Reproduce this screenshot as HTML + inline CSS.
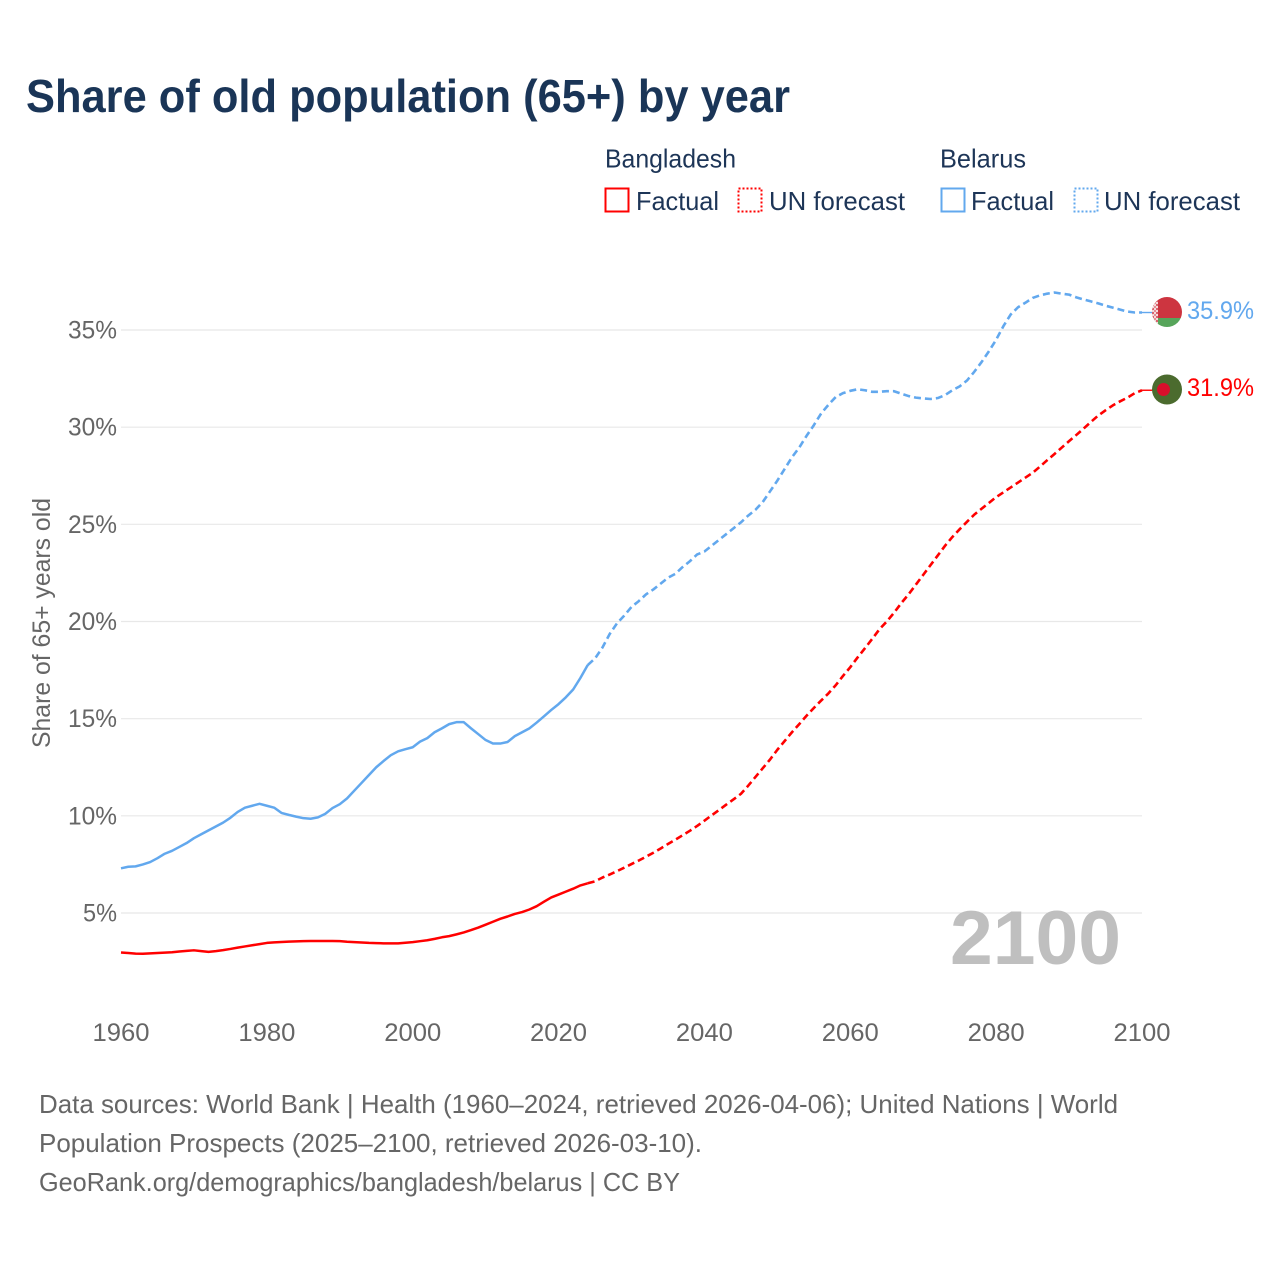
<!DOCTYPE html>
<html lang="en">
<head>
<meta charset="utf-8">
<title>Share of old population (65+) by year</title>
<style>
html,body{margin:0;padding:0;background:#fff;}
svg{display:block;font-family:"Liberation Sans",sans-serif;}
</style>
</head>
<body>
<svg id="chart" xmlns="http://www.w3.org/2000/svg" width="1280" height="1280" viewBox="0 0 1280 1280">
  <rect x="0" y="0" width="1280" height="1280" fill="#ffffff"/>
  <text x="26" y="112" font-size="46" font-weight="700" fill="#1a3557" textLength="764" lengthAdjust="spacingAndGlyphs">Share of old population (65+) by year</text>

  <g font-size="26" fill="#1d3557">
    <text x="605" y="167.5" textLength="131" lengthAdjust="spacingAndGlyphs">Bangladesh</text>
    <rect x="605.5" y="188.5" width="23" height="23" fill="none" stroke="#ff0000" stroke-width="2"/>
    <text x="636" y="210" textLength="83" lengthAdjust="spacingAndGlyphs">Factual</text>
    <rect x="738.5" y="188.5" width="23" height="23" fill="none" stroke="#ff0000" stroke-width="2" stroke-dasharray="2 2"/>
    <text x="769" y="210" textLength="136" lengthAdjust="spacingAndGlyphs">UN forecast</text>
    <text x="940" y="167.5" textLength="86" lengthAdjust="spacingAndGlyphs">Belarus</text>
    <rect x="941.5" y="188.5" width="23" height="23" fill="none" stroke="#62a8ee" stroke-width="2"/>
    <text x="971" y="210" textLength="83" lengthAdjust="spacingAndGlyphs">Factual</text>
    <rect x="1074.5" y="188.5" width="23" height="23" fill="none" stroke="#62a8ee" stroke-width="2" stroke-dasharray="2 2"/>
    <text x="1104" y="210" textLength="136" lengthAdjust="spacingAndGlyphs">UN forecast</text>
  </g>

  <g id="grid"></g>
  <g id="yticks" font-size="25" fill="#666666"></g>
  <g id="xticks" font-size="25" fill="#666666"></g>

  <text transform="translate(50,623) rotate(-90)" text-anchor="middle" font-size="25" fill="#666666" textLength="250" lengthAdjust="spacingAndGlyphs">Share of 65+ years old</text>

  <text x="1121" y="964" text-anchor="end" font-size="76" font-weight="700" fill="#bfbfbf" textLength="171" lengthAdjust="spacingAndGlyphs">2100</text>

  <g id="series"></g>

  <defs>
    <clipPath id="belarus-clip"><circle cx="1167" cy="312" r="15"/></clipPath>
    <pattern id="belarus-ornament" width="4" height="4" patternUnits="userSpaceOnUse">
      <rect width="4" height="4" fill="#f3dcdc"/>
      <rect x="0" y="0" width="2" height="2" fill="#d9646e"/>
      <rect x="2" y="2" width="2" height="2" fill="#e58d94"/>
    </pattern>
  </defs>
  <g id="flag-belarus" clip-path="url(#belarus-clip)">
    <rect x="1150" y="296" width="34" height="22" fill="#cd3540"/>
    <rect x="1150" y="318" width="34" height="11" fill="#57a55b"/>
    <rect x="1150" y="296" width="8" height="33" fill="url(#belarus-ornament)"/>
  </g>
  <g id="flag-bangladesh">
    <circle cx="1167" cy="389.5" r="15" fill="#4b6b2e"/>
    <circle cx="1163.5" cy="389.5" r="6.5" fill="#d80f2b"/>
  </g>

  <text id="label-belarus" x="1187" y="319" font-size="25" fill="#62a8ee" textLength="67" lengthAdjust="spacingAndGlyphs">35.9%</text>
  <text id="label-bangladesh" x="1187" y="396" font-size="25" fill="#ff0000" textLength="67" lengthAdjust="spacingAndGlyphs">31.9%</text>

  <g font-size="26" fill="#666666">
    <text x="39" y="1113" textLength="1079" lengthAdjust="spacingAndGlyphs">Data sources: World Bank | Health (1960–2024, retrieved 2026-04-06); United Nations | World</text>
    <text x="39" y="1152" textLength="663" lengthAdjust="spacingAndGlyphs">Population Prospects (2025–2100, retrieved 2026-03-10).</text>
    <text x="39" y="1191" textLength="641" lengthAdjust="spacingAndGlyphs">GeoRank.org/demographics/bangladesh/belarus | CC BY</text>
  </g>
</svg>

<script>
const xTickYears = [1960, 1980, 2000, 2020, 2040, 2060, 2080, 2100];
const yTickValues = [5, 10, 15, 20, 25, 30, 35];
const factualStartYear = 1960;
const forecastStartYear = 2025;

const belarusFactual = [
  7.3, 7.38, 7.4, 7.5, 7.62, 7.82, 8.05, 8.2, 8.4, 8.6,
  8.85, 9.05, 9.25, 9.45, 9.65, 9.9, 10.2, 10.42, 10.52, 10.62,
  10.52, 10.42, 10.15, 10.05, 9.96, 9.88, 9.85, 9.92, 10.1, 10.4,
  10.6, 10.9, 11.3, 11.7, 12.1, 12.5, 12.82, 13.12, 13.32, 13.43,
  13.53, 13.82, 14.0, 14.3, 14.5, 14.72, 14.82, 14.82, 14.5, 14.2,
  13.9, 13.72, 13.72, 13.8, 14.1, 14.3, 14.5, 14.8, 15.12, 15.45,
  15.75, 16.1, 16.5, 17.1, 17.76
];
const belarusForecast = [
  18.1, 18.65, 19.35, 19.9, 20.3, 20.75, 21.05, 21.4, 21.65, 21.95,
  22.25, 22.45, 22.8, 23.1, 23.45, 23.6, 23.9, 24.2, 24.5, 24.8,
  25.1, 25.45, 25.75, 26.15, 26.7, 27.25, 27.85, 28.45, 28.95, 29.55,
  30.1, 30.7, 31.15, 31.55, 31.75, 31.87, 31.95, 31.9, 31.82, 31.82,
  31.85, 31.85, 31.72, 31.6, 31.52, 31.48, 31.45, 31.5, 31.65, 31.9,
  32.1, 32.4, 32.85, 33.35, 33.9, 34.5, 35.2, 35.8, 36.17, 36.4,
  36.65, 36.78, 36.87, 36.93, 36.87, 36.82, 36.68, 36.57, 36.47, 36.37,
  36.25, 36.15, 36.05, 35.95, 35.9, 35.9
];
const bangladeshFactual = [
  2.97, 2.94, 2.91, 2.9, 2.92, 2.94, 2.96, 2.98, 3.02, 3.05,
  3.08, 3.04, 3.0, 3.04, 3.09, 3.15, 3.22, 3.28, 3.34, 3.4,
  3.46, 3.49, 3.51, 3.53, 3.54, 3.55, 3.56, 3.56, 3.56, 3.56,
  3.55, 3.52, 3.5, 3.48, 3.46, 3.45, 3.44, 3.44, 3.44, 3.47,
  3.5, 3.55, 3.6, 3.67, 3.75, 3.81, 3.9, 4.0, 4.12, 4.25,
  4.4, 4.55, 4.7, 4.82, 4.95, 5.05, 5.18, 5.35, 5.58, 5.8,
  5.95, 6.1, 6.25, 6.42, 6.53
];
const bangladeshForecast = [
  6.63, 6.82, 6.98, 7.15, 7.33, 7.52, 7.7, 7.9, 8.1, 8.32,
  8.55, 8.77, 9.0, 9.23, 9.48, 9.75, 10.03, 10.3, 10.58, 10.85,
  11.13, 11.55, 12.0, 12.45, 12.9, 13.4, 13.85, 14.3, 14.72, 15.15,
  15.55, 15.93, 16.3, 16.72, 17.2, 17.65, 18.15, 18.62, 19.1, 19.6,
  20.0, 20.45, 20.95, 21.4, 21.9, 22.4, 22.9, 23.4, 23.9, 24.35,
  24.75, 25.13, 25.5, 25.8, 26.1, 26.4, 26.65, 26.9, 27.15, 27.4,
  27.65, 27.97, 28.3, 28.62, 28.95, 29.28, 29.6, 29.93, 30.27, 30.6,
  30.87, 31.12, 31.33, 31.52, 31.75, 31.9
];

const SVG_NS = 'http://www.w3.org/2000/svg';
const xPos = year => 121 + (year - 1960) * (1142 - 121) / 140;
const yPos = value => 913 - (value - 5) * (913 - 330) / 30;

function pointList(startYear, values, prefix) {
  const parts = values.map((v, i) => xPos(startYear + i).toFixed(2) + ',' + yPos(v).toFixed(2));
  return (prefix ? [prefix] : []).concat(parts).join(' ');
}

const gridGroup = document.getElementById('grid');
const yTickGroup = document.getElementById('yticks');
yTickValues.forEach(v => {
  const line = document.createElementNS(SVG_NS, 'line');
  
  
  line.setAttribute('x1', xPos(1960));
  line.setAttribute('x2', xPos(2100));
  line.setAttribute('y1', yPos(v));
  line.setAttribute('y2', yPos(v));
  line.setAttribute('stroke', '#e8e8e8');
  line.setAttribute('stroke-width', '1.2');
  gridGroup.appendChild(line);

  const label = document.createElementNS(SVG_NS, 'text');
  
  
  label.setAttribute('x', 117);
  label.setAttribute('y', yPos(v) + 8.5);
  label.setAttribute('text-anchor', 'end');
  label.setAttribute('textLength', v < 10 ? 34 : 49);
  label.setAttribute('lengthAdjust', 'spacingAndGlyphs');
  label.textContent = v + '%';
  yTickGroup.appendChild(label);
});

const xTickGroup = document.getElementById('xticks');
xTickYears.forEach(year => {
  const label = document.createElementNS(SVG_NS, 'text');
  
  
  label.setAttribute('x', xPos(year));
  label.setAttribute('y', 1041);
  label.setAttribute('text-anchor', 'middle');
  label.setAttribute('textLength', 57);
  label.setAttribute('lengthAdjust', 'spacingAndGlyphs');
  label.textContent = year;
  xTickGroup.appendChild(label);
});

const seriesGroup = document.getElementById('series');

function addLine(name, points, color, dash, width) {
  const line = document.createElementNS(SVG_NS, 'polyline');
  
  
  line.setAttribute('points', points);
  line.setAttribute('fill', 'none');
  line.setAttribute('stroke', color);
  line.setAttribute('stroke-width', width);
  line.setAttribute('stroke-linejoin', 'round');
  if (dash) line.setAttribute('stroke-dasharray', dash);
  seriesGroup.appendChild(line);
}

function lastOf(startYear, values) {
  const i = values.length - 1;
  return xPos(startYear + i).toFixed(2) + ',' + yPos(values[i]).toFixed(2);
}

addLine('belarus-factual-line', pointList(factualStartYear, belarusFactual), '#62a8ee', null, 2.5);
addLine('belarus-forecast-line', pointList(forecastStartYear, belarusForecast, lastOf(factualStartYear, belarusFactual)), '#62a8ee', '7 4', 2.6);
addLine('bangladesh-factual-line', pointList(factualStartYear, bangladeshFactual), '#ff0000', null, 2.5);
addLine('bangladesh-forecast-line', pointList(forecastStartYear, bangladeshForecast, lastOf(factualStartYear, bangladeshFactual)), '#ff0000', '7 4', 2.6);

function addLeader(name, values, color) {
  const v = values[values.length - 1];
  addLine(name, xPos(2100).toFixed(2) + ',' + yPos(v).toFixed(2) + ' 1153,' + yPos(v).toFixed(2), color, null, 1.4);
}
addLeader('belarus-flag-leader', belarusForecast, '#62a8ee');
addLeader('bangladesh-flag-leader', bangladeshForecast, '#ff0000');

document.getElementById('label-belarus').textContent = belarusForecast[belarusForecast.length - 1].toFixed(1) + '%';
document.getElementById('label-bangladesh').textContent = bangladeshForecast[bangladeshForecast.length - 1].toFixed(1) + '%';
</script>
</body>
</html>
